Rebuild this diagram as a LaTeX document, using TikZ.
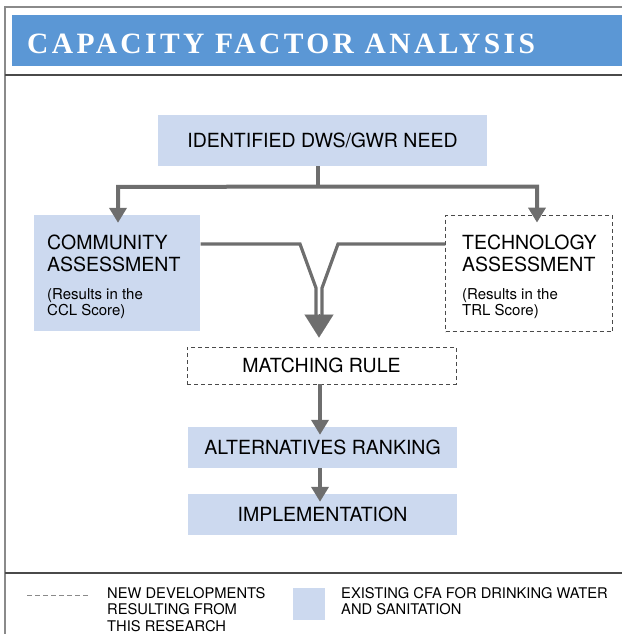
\documentclass[tikz,border=0pt]{standalone}
\usepackage{fontspec}
\setmainfont{TeX Gyre Heros}
\newfontfamily\titlefont{Liberation Serif}[LetterSpace=11.5]
\usetikzlibrary{arrows.meta,calc}

\definecolor{bandblue}{HTML}{5B97D5}
\definecolor{paleblue}{HTML}{CCD9EF}
\definecolor{flowgray}{HTML}{6E6E6E}
\definecolor{framegray}{HTML}{8A8A8A}
\definecolor{rulegray}{HTML}{4A4A4A}

\tikzset{
  fillbox/.style={fill=paleblue, draw=none, inner sep=0pt},
  newbox/.style={draw=rulegray, line width=0.9pt, dash pattern=on 4pt off 3pt, inner sep=0pt},
  boxfont/.style={font=\fontsize{19.5}{21}\selectfont},
  headtext/.style={align=left, inner sep=0pt, anchor=north west, font=\fontsize{19.5}{22}\selectfont},
  notetext/.style={align=left, inner sep=0pt, anchor=north west, font=\fontsize{15}{16.5}\selectfont},
  legendtext/.style={align=left, inner sep=0pt, anchor=north west, font=\fontsize{14.7}{16.6}\selectfont},
  flowarrow/.style={draw=flowgray, line width=4pt, -{Triangle[width=17pt,length=15pt]}},
  mergeline/.style={draw=flowgray, line width=3.2pt, line join=miter},
}

\begin{document}
\begin{tikzpicture}[x=1pt,y=-1pt]
\useasboundingbox (0,0) rectangle (622,634);

% frame and header
\draw[framegray, line width=1.2pt] (5,634) -- (5,7) -- (622,7);
\fill[bandblue] (12,15) rectangle (622,66);
\node[anchor=base west, inner sep=0pt, text=white,
      font=\titlefont\bfseries\fontsize{29.5}{29.5}\selectfont] (title) at (27,53)
      {CAPACITY FACTOR ANALYSIS};
\draw[rulegray, line width=1.2pt] (5,75) -- (622,75);
\draw[rulegray, line width=1.2pt] (5,573) -- (622,573);

% process boxes
\node[fillbox, boxfont, minimum width=329pt, minimum height=51pt] (ident) at (322.5,140.5)
  {IDENTIFIED DWS/GWR NEED};

\node[fillbox, minimum width=166pt, minimum height=116pt] (community) at (117.3,273) {};
\node[headtext] (communityhead) at (47,235) {COMMUNITY\\ASSESSMENT};
\node[notetext] (communitynote) at (47,288) {(Results in the\\CCL Score)};

\node[newbox, minimum width=167pt, minimum height=116.5pt] (tech) at (529.2,273.3) {};
\node[headtext] (techhead) at (462,235) {TECHNOLOGY\\ASSESSMENT};
\node[notetext] (technote) at (462,288) {(Results in the\\TRL Score)};

\node[newbox, boxfont, minimum width=269pt, minimum height=37pt] (matching) at (321.5,365.5)
  {MATCHING RULE};
\node[fillbox, boxfont, minimum width=269pt, minimum height=41pt] (ranking) at (322.5,447.5)
  {ALTERNATIVES RANKING};
\node[fillbox, boxfont, minimum width=269pt, minimum height=41pt] (implement) at (322.5,514.5)
  {IMPLEMENTATION};

% split from the identified need to both assessments
\coordinate (branch) at (318,187);
\draw[draw=flowgray, line width=4pt] (branch |- ident.south) -- (branch);
\draw[draw=flowgray, line width=4pt, line join=miter,
      {Triangle[width=17pt,length=15pt]}-{Triangle[width=17pt,length=15pt]}]
  ($(community.north)+(0.7,8)$) -- ($(community.north)+(0.7,-28)$)
  -- ($(tech.north)+(7.8,-28)$) -- ($(tech.north)+(7.8,8)$);

% both assessments merge into the matching rule
\draw[mergeline] (community.east |- 0,244) -- (300,244) -- (316,288) -- (316,316);
\draw[mergeline] (tech.west |- 0,244) -- (338,244) -- (322,288) -- (322,316);
\draw[draw=flowgray, line width=0.1pt, -{Triangle[width=29pt,length=23pt]}]
  (319,314) -- ($(matching.north)+(-2.5,-9)$);

% downstream steps
\draw[flowarrow] ($(matching.south)+(-1.5,0)$) -- ($(ranking.north)+(-2.5,8)$);
\draw[flowarrow] ($(ranking.south)+(-2.5,0)$) -- ($(implement.north)+(-2.5,8)$);

% legend
\draw[framegray, line width=1pt, dash pattern=on 5pt off 3pt] (27,595) coordinate (dashstart) -- (90,595) coordinate (dashend);
\node[legendtext] (newlegend) at (107,587) {NEW DEVELOPMENTS\\RESULTING FROM\\THIS RESEARCH};
\node[fillbox, minimum width=32pt, minimum height=32pt] (swatch) at (309,604) {};
\node[legendtext] (oldlegend) at (341,587) {EXISTING CFA FOR DRINKING WATER\\AND SANITATION};
\end{tikzpicture}
\end{document}
